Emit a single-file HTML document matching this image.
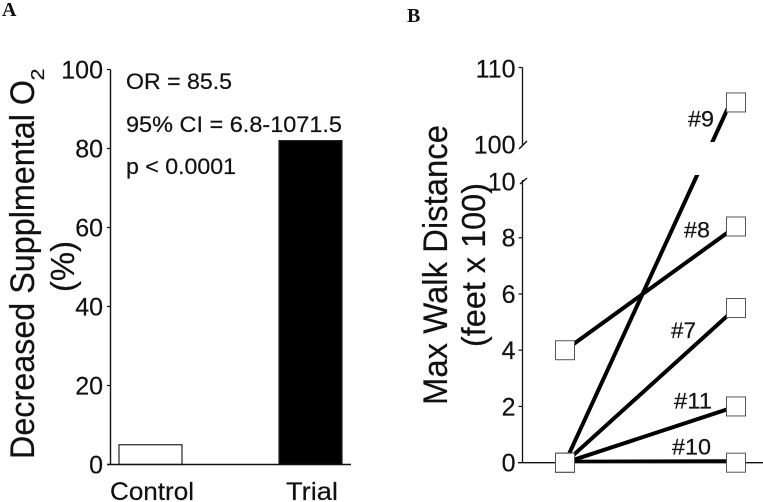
<!DOCTYPE html>
<html lang="en">
<head>
<meta charset="utf-8">
<title>Supplemental oxygen and walk distance</title>
<style>
  html, body { margin: 0; padding: 0; background: #fff; }
  svg { display: block; }
  text { font-family: "Liberation Sans", sans-serif; fill: #111; stroke: #111; stroke-width: 0.2px; }
  .panel-letter { font-family: "Liberation Serif", serif; font-weight: bold; font-size: 20px; stroke: none; }
</style>
</head>
<body>
<svg id="chart" xmlns="http://www.w3.org/2000/svg" width="763" height="502" viewBox="0 0 763 502">
  <defs>
    <clipPath id="clip-lower"><rect x="540" y="175" width="187.5" height="300"></rect></clipPath>
    <clipPath id="clip-upper"><rect x="540" y="60" width="187.5" height="82"></rect></clipPath>
  </defs>
  <rect width="763" height="502" fill="#fff"></rect>
  <text class="panel-letter" x="2" y="16">A</text>
  <text class="panel-letter" x="407" y="22">B</text>

  <text transform="translate(34,459) rotate(-90)" font-size="34" textLength="379" lengthAdjust="spacingAndGlyphs">Decreased Supplmental O</text>
  <text transform="translate(44,80.5) rotate(-90)" font-size="18" textLength="12" lengthAdjust="spacingAndGlyphs">2</text>
  <text transform="translate(74,292) rotate(-90)" font-size="33" textLength="51" lengthAdjust="spacingAndGlyphs">(%)</text>

  <text x="126" y="89" font-size="22" textLength="106" lengthAdjust="spacingAndGlyphs">OR = 85.5</text>
  <text x="126" y="132" font-size="22" textLength="216" lengthAdjust="spacingAndGlyphs">95% CI = 6.8-1071.5</text>
  <text x="126" y="174" font-size="22" textLength="110" lengthAdjust="spacingAndGlyphs">p &lt; 0.0001</text>

  <text transform="translate(447,405) rotate(-90)" font-size="34" textLength="280" lengthAdjust="spacingAndGlyphs">Max Walk Distance</text>
  <text transform="translate(485,347) rotate(-90)" font-size="33" textLength="164" lengthAdjust="spacingAndGlyphs">(feet x 100)</text>

  <g id="panel-a"></g>
  <g id="panel-b"></g>
</svg>
<script>
// Panel A data
const barCategories = ['Control', 'Trial'];
const barValues = [5, 82];
const barTicks = [0, 20, 40, 60, 80, 100];

// Panel B data
const seriesNames = ['#7', '#8', '#9', '#10', '#11'];
const walkBefore = [0, 4, 0, 0, 0];
const walkAfter = [5.5, 8.4, 105.4, 0, 2];
const lowerTicks = [0, 2, 4, 6, 8, 10];
const upperTicks = [100, 110];
const phases = [0, 1];

const NS = 'http://www.w3.org/2000/svg';
const INK = '#111';
const panelA = document.getElementById('panel-a');
const panelB = document.getElementById('panel-b');

function make(parent, tag, attrs) {
  const el = document.createElementNS(NS, tag);
  for (const key in attrs) el.setAttribute(key, attrs[key]);
  parent.appendChild(el);
  return el;
}

// Axis functions
function yBar(v) { return 464.5 - v * 3.95; }
function xBar(i) { return 150.5 + i * 160; }
function yLower(v) { return 462.7 - v * 28.12; }
function yUpper(v) { return 143.5 - (v - 100) * 7.6; }
function yWalk(v) { return v > 10 ? yUpper(v) : yLower(v); }
function xPhase(i) { return 565 + i * 171; }

// Panel A axes
const aAxisY = make(panelA, 'line', { x1: 110.5, x2: 110.5, y1: yBar(100), y2: yBar(0), stroke: INK, 'stroke-width': 1.4 });



barTicks.forEach(function (t) {
  const tick = make(panelA, 'line', { x1: 107, x2: 110.5, y1: yBar(t), y2: yBar(t), stroke: INK, 'stroke-width': 1.2 });
  
  
  const label = make(panelA, 'text', { x: 103, y: yBar(t) + 9, 'font-size': 25, 'text-anchor': 'end' });
  
  
  label.textContent = t;
});

// Panel A bars
barValues.forEach(function (v, i) {
  const bar = make(panelA, 'rect', {
    x: xBar(i) - 31.5, y: yBar(v), width: 63, height: yBar(0) - yBar(v),
    fill: i === 0 ? '#fff' : '#000', stroke: '#222', 'stroke-width': 1.2
  });
  
  
  const label = make(panelA, 'text', { x: xBar(i) + 1.5, y: 500, 'font-size': 25, 'text-anchor': 'middle', textLength: i === 0 ? 84 : 52, lengthAdjust: 'spacingAndGlyphs' });
  
  
  label.textContent = barCategories[i];
});

const aAxisX = make(panelA, 'line', { x1: 107, x2: 351, y1: yBar(0), y2: yBar(0), stroke: INK, 'stroke-width': 1.4 });



// Panel B axes
const bAxisLower = make(panelB, 'line', { x1: 522.5, x2: 522.5, y1: 180, y2: yLower(0), stroke: INK, 'stroke-width': 1.3 });



const bAxisUpper = make(panelB, 'line', { x1: 522.5, x2: 522.5, y1: yUpper(110), y2: 146, stroke: INK, 'stroke-width': 1.3 });



const bAxisX = make(panelB, 'line', { x1: 518, x2: 763, y1: yLower(0), y2: yLower(0), stroke: INK, 'stroke-width': 1.3 });



const breakUpper = make(panelB, 'line', { x1: 519, y1: 149, x2: 527, y2: 141, stroke: INK, 'stroke-width': 1.4 });



const breakLower = make(panelB, 'line', { x1: 520, y1: 184, x2: 527, y2: 178, stroke: INK, 'stroke-width': 1.4 });



lowerTicks.forEach(function (t) {
  if (t !== 10 && t !== 0) {
    const tick = make(panelB, 'line', { x1: 518.5, x2: 522.5, y1: yLower(t), y2: yLower(t), stroke: INK, 'stroke-width': 1.2 });
    
    
  }
  const label = make(panelB, 'text', { x: 515.5, y: yLower(t) + 9, 'font-size': 25, 'text-anchor': 'end' });
  
  
  label.textContent = t;
});

upperTicks.forEach(function (t) {
  if (t === 110) {
    const tick = make(panelB, 'line', { x1: 518.5, x2: 522.5, y1: yUpper(t), y2: yUpper(t), stroke: INK, 'stroke-width': 1.2 });
    
    
  }
  const label = make(panelB, 'text', { x: 515.5, y: yUpper(t) + 10, 'font-size': 25, 'text-anchor': 'end' });
  
  
  label.textContent = t;
});

// Panel B lines: clipped at the marker edge and around the axis break.
// A flat series is lifted slightly so it stays visible above the x axis.
seriesNames.forEach(function (name, i) {
  const broken = walkAfter[i] > 10;
  const flat = walkAfter[i] === walkBefore[i];
  const x1 = xPhase(phases[0]);
  const x2 = xPhase(phases[1]);
  const y1 = yWalk(walkBefore[i]) - (flat ? 1.5 : 0);
  const y2 = yWalk(walkAfter[i]) - (broken ? 12 : 0) - (flat ? 2 : 0);
  const slug = name.replace('#', '');
  const lower = make(panelB, 'line', { x1: x1, y1: y1, x2: x2, y2: y2, stroke: '#000', 'stroke-width': flat ? 3 : 4, 'clip-path': 'url(#clip-lower)' });
  
  
  if (broken) {
    const upper = make(panelB, 'line', { x1: x1, y1: y1, x2: x2, y2: y2, stroke: '#000', 'stroke-width': 4, 'clip-path': 'url(#clip-upper)' });
    
    
  }
});

// Panel B markers
seriesNames.forEach(function (name, i) {
  const slug = name.replace('#', '');
  const start = make(panelB, 'rect', { x: xPhase(phases[0]) - 9.5, y: yWalk(walkBefore[i]) - 9.5, width: 19, height: 19, fill: '#fff', stroke: '#555', 'stroke-width': 1 });
  
  
  const end = make(panelB, 'rect', { x: xPhase(phases[1]) - 9.5, y: yWalk(walkAfter[i]) - 9.5, width: 19, height: 19, fill: '#fff', stroke: '#555', 'stroke-width': 1 });
  
  
});

// Series labels, placed relative to each end marker
function seriesLabel(i, dx, dy, width) {
  const label = make(panelB, 'text', { x: xPhase(phases[1]) + dx, y: yWalk(walkAfter[i]) + dy, 'font-size': 22, textLength: width, lengthAdjust: 'spacingAndGlyphs' });
  
  
  label.textContent = seriesNames[i];
}
seriesLabel(0, -65, 30, 25);
seriesLabel(1, -52, 11, 26);
seriesLabel(2, -48, 24, 26);
seriesLabel(3, -64, -8, 39);
seriesLabel(4, -62, 2, 38);
</script>
</body>
</html>
